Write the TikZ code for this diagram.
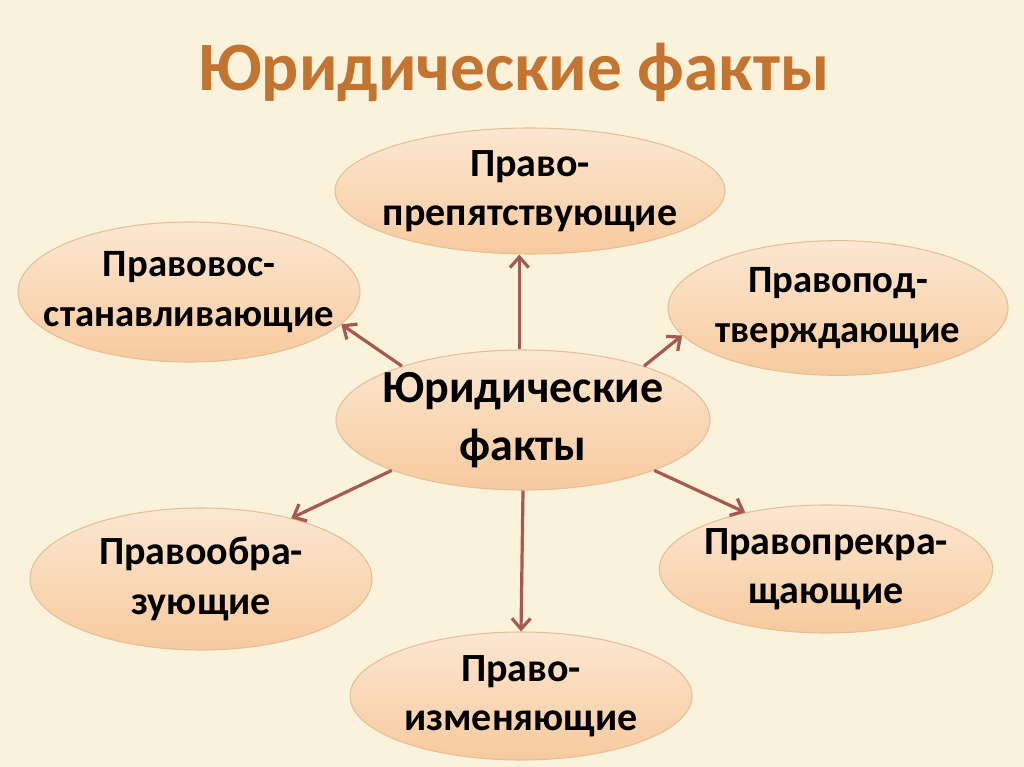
\documentclass[tikz,border=0pt]{standalone}
\usepackage{fontspec}
\setmainfont{Carlito}
\usetikzlibrary{arrows.meta, shapes.geometric}
\definecolor{factbg}{HTML}{FBF2DC}
\definecolor{facttitle}{HTML}{C47431}
\definecolor{factfilltop}{HTML}{FCE7D1}
\definecolor{factfillbot}{HTML}{F7CA9E}
\definecolor{factborder}{HTML}{E3BF99}
\definecolor{factarrow}{HTML}{A65853}
% a line of text that does not widen its ellipse
\newcommand{\factline}[1]{\makebox[0pt]{#1}}

\begin{document}
\begin{tikzpicture}[x=0.75pt, y=-0.75pt,
        fact/.style={ellipse, draw=factborder, line width=0.8pt, top color=factfilltop, bottom color=factfillbot,
            inner sep=0pt, align=center, font=\fontsize{30}{37}\selectfont\bfseries},
        link/.style={draw=factarrow, line width=2.4pt, -{Straight Barb[length=8pt,width=14pt]}}
    ]
      % background
      \fill[factbg] (0,0) rectangle (1024,767);
      \useasboundingbox (0,0) rectangle (1024,767);
      % title
      \node[text=facttitle, font=\fontsize{52}{60}\selectfont\bfseries] (title) at (514,72) {Юридические факты};
      % central node
      \node[fact, minimum width=280.5pt, minimum height=105pt, font=\fontsize{34.5}{44}\selectfont\bfseries] (facts) at (523,420)
           {\factline{Юридические}\\\factline{факты}};
      % kinds of facts
      \node[fact, minimum width=292.5pt, minimum height=94.5pt] (prevent) at (530,191)
           {\factline{Право-}\\\factline{препятствующие}};
      \node[fact, minimum width=256.5pt, minimum height=105pt, font=\fontsize{29}{37}\selectfont\bfseries] (restore) at (189,292)
           {\factline{Правовос-}\\\factline{станавливающие}};
      \node[fact, minimum width=255pt, minimum height=101pt, font=\fontsize{29}{37}\selectfont\bfseries] (confirm) at (838,308)
           {\factline{Правопод-}\\\factline{тверждающие}};
      \node[fact, minimum width=256.5pt, minimum height=106.5pt] (create) at (201,579)
           {\factline{Правообра-}\\\factline{зующие}};
      \node[fact, minimum width=250pt, minimum height=96pt] (stop) at (826,569)
           {\factline{Правопрекра-}\\\factline{щающие}};
      \node[fact, minimum width=256.5pt, minimum height=96pt] (change) at (521,696)
           {\factline{Право-}\\\factline{изменяющие}};
      % arrows
      \draw[link] (facts.93) -- (facts.93 |- prevent.south);
      \draw[link] (facts.156) -- (restore.-12);
      \draw[link] (facts.24) -- (confirm.-170);
      \draw[link] (facts.201) -- (create.34);
      \draw[link] (facts.south) -- (change.north);
      \draw[link] (facts.-21) -- (stop.145);
    \end{tikzpicture}
\end{document}
